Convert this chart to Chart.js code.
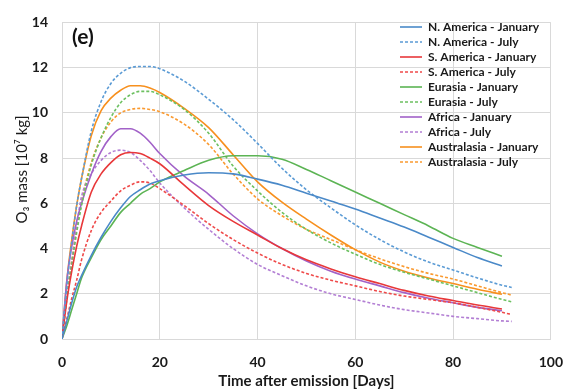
<!DOCTYPE html>
<html>
<head>
<meta charset="utf-8">
<script src="https://cdn.jsdelivr.net/npm/chart.js@4.4.1/dist/chart.umd.min.js"></script>
<style>
  html, body { margin: 0; padding: 0; background: #fff; }
</style>
</head>
<body>
<canvas id="chart" width="563" height="390"></canvas>
<script>
// days after emission (January runs stop at 90, July runs at 92)
const daysJan = [0, 1, 2, 3, 4, 6, 8, 10, 12, 14, 16, 18, 20, 25, 30, 35, 40, 45, 50, 55, 60, 65, 70, 75, 80, 85, 90];
const daysJul = [0, 1, 2, 3, 4, 6, 8, 10, 12, 14, 16, 18, 20, 25, 30, 35, 40, 45, 50, 55, 60, 65, 70, 75, 80, 85, 90, 92];

// O3 mass [10^7 kg]
const naJan = [0, 0.8, 1.6, 2.3, 2.8, 3.7, 4.5, 5.2, 5.8, 6.3, 6.6, 6.85, 7.0, 7.25, 7.35, 7.3, 7.07, 6.8, 6.45, 6.1, 5.75, 5.35, 4.95, 4.5, 4.05, 3.6, 3.23];
const naJul = [0, 2.4, 4.3, 5.9, 7.1, 9.2, 10.5, 11.3, 11.75, 12.0, 12.05, 12.05, 11.95, 11.4, 10.6, 9.7, 8.65, 7.55, 6.6, 5.8, 5.05, 4.4, 3.85, 3.4, 3.05, 2.7, 2.38, 2.28];
const saJan = [0, 1.7, 3.0, 4.1, 5.0, 6.5, 7.3, 7.8, 8.15, 8.25, 8.2, 8.0, 7.75, 6.8, 5.9, 5.2, 4.6, 4.0, 3.5, 3.1, 2.75, 2.45, 2.15, 1.9, 1.7, 1.5, 1.33];
const saJul = [0, 0.9, 1.8, 2.6, 3.5, 4.8, 5.6, 6.1, 6.55, 6.8, 6.95, 6.9, 6.65, 5.9, 5.1, 4.4, 3.8, 3.3, 2.9, 2.6, 2.35, 2.1, 1.9, 1.75, 1.6, 1.4, 1.18, 1.08];
const euJan = [0, 0.6, 1.3, 2.0, 2.7, 3.6, 4.4, 5.0, 5.6, 6.0, 6.4, 6.65, 6.95, 7.45, 7.9, 8.1, 8.1, 7.95, 7.5, 7.0, 6.5, 6.0, 5.5, 5.0, 4.45, 4.05, 3.66];
const euJul = [0, 1.8, 3.3, 4.7, 5.9, 7.7, 8.9, 9.8, 10.45, 10.8, 10.95, 10.95, 10.8, 10.15, 9.1, 7.65, 6.55, 5.6, 4.85, 4.25, 3.75, 3.3, 2.95, 2.65, 2.35, 2.05, 1.75, 1.64];
const afJan = [0, 2.6, 4.1, 5.2, 6.0, 7.3, 8.3, 8.95, 9.3, 9.3, 9.1, 8.7, 8.2, 7.2, 6.4, 5.45, 4.65, 4.0, 3.45, 3.0, 2.65, 2.35, 2.05, 1.8, 1.6, 1.4, 1.25];
const afJul = [0, 1.9, 3.4, 5.0, 6.3, 7.3, 7.9, 8.25, 8.35, 8.25, 7.9, 7.45, 6.9, 5.8, 4.85, 4.0, 3.3, 2.8, 2.35, 2.0, 1.75, 1.5, 1.3, 1.15, 1.0, 0.9, 0.8, 0.78];
const auJan = [0, 2.6, 4.4, 5.9, 7.1, 9.0, 10.1, 10.65, 11.0, 11.2, 11.2, 11.1, 10.9, 10.2, 9.35, 8.15, 6.95, 6.05, 5.3, 4.6, 3.95, 3.4, 3.0, 2.7, 2.45, 2.2, 1.98];
const auJul = [0, 1.9, 3.5, 4.9, 6.1, 7.8, 8.9, 9.6, 10.0, 10.15, 10.2, 10.15, 10.05, 9.5, 8.6, 7.3, 6.2, 5.45, 4.85, 4.4, 3.95, 3.55, 3.2, 2.9, 2.65, 2.35, 2.05, 1.94];

const xTicks = [0, 20, 40, 60, 80, 100];
const yTicks = [0, 2, 4, 6, 8, 10, 12, 14];

function pts(days, vals) {
    return days.map((d, i) => ({ x: d, y: vals[i] }));
}

function line(label, days, vals, color, dashed) {
    return {
        label: label,
        data: pts(days, vals),
        borderColor: color,
        backgroundColor: color,
        borderWidth: 1.6,
        borderDash: dashed ? [3, 2] : [],
        pointRadius: 0,
        cubicInterpolationMode: 'monotone',
        fill: false
    };
}

// puts the legend inside the plot, top right, and writes the panel tag
const panelPlugin = {
    id: 'panel',
    afterLayout(chart) {
        const lg = chart.legend;
        lg.left = 397;
        lg.right = chart.width;
        lg.top = 18;
        lg.bottom = chart.chartArea.bottom;
    },
    afterDraw(chart) {
        const c = chart.ctx;
        c.save();
        c.font = 'bold 21px Lato';
        c.fillStyle = '#111';
        c.textBaseline = 'middle';
        c.fillText('(e)', 72, 37);
        c.restore();
    }
};

Chart.defaults.font.family = 'Lato';
Chart.defaults.color = '#1a1a1a';

var ctx = document.getElementById('chart');
const chart = new Chart(ctx, {
    type: 'line',
    data: {
        datasets: [
            line('N. America - January', daysJan, naJan, '#4a89c8', false),
            line('N. America - July', daysJul, naJul, '#5b9bd5', true),
            line('S. America - January', daysJan, saJan, '#e8383a', false),
            line('S. America - July', daysJul, saJul, '#ef4a4a', true),
            line('Eurasia - January', daysJan, euJan, '#5cb454', false),
            line('Eurasia - July', daysJul, euJul, '#6cc060', true),
            line('Africa - January', daysJan, afJan, '#a262c8', false),
            line('Africa - July', daysJul, afJul, '#b37fd4', true),
            line('Australasia - January', daysJan, auJan, '#f7901e', false),
            line('Australasia - July', daysJul, auJul, '#fa9a30', true)
        ]
    },
    options: {
        responsive: false,
        animation: false,
        layout: { padding: { top: 14, right: 0, left: 0, bottom: 0 } },
        plugins: {
            legend: {
                position: 'chartArea',
                align: 'start',
                labels: {
                    usePointStyle: true,
                    pointStyle: 'line',
                    pointStyleWidth: 22,
                    boxHeight: 12,
                    padding: 3,
                    color: '#1a1a1a',
                    font: { size: 12, weight: 'bold' },
                    generateLabels(chart) {
                        const items = Chart.defaults.plugins.legend.labels.generateLabels(chart);
                        items.forEach(it => {
                            const ds = chart.data.datasets[it.datasetIndex];
                            it.lineDash = ds.borderDash;
                            it.strokeStyle = ds.borderColor;
                            it.lineWidth = 1.6;
                        });
                        return items;
                    }
                }
            },
            tooltip: { enabled: false }
        },
        scales: {
            x: {
                type: 'linear',
                min: 0,
                max: 100,
                afterFit(scale) { scale.height = 51; },
                afterBuildTicks(scale) { scale.ticks = xTicks.map(v => ({ value: v })); },
                grid: { color: '#d9d9d9', drawTicks: true, tickLength: 15, tickColor: 'rgba(0,0,0,0)' },
                border: { color: '#d9d9d9' },
                ticks: { padding: 0, font: { size: 14, weight: 'bold' }, maxRotation: 0 },
                title: {
                    display: true,
                    text: 'Time after emission [Days]',
                    font: { size: 15, weight: 'bold' },
                    padding: { top: 0, bottom: 0 }
                }
            },
            y: {
                min: 0,
                max: 14,
                afterFit(scale) { scale.width = 62; },
                afterBuildTicks(scale) { scale.ticks = yTicks.map(v => ({ value: v })); },
                grid: { color: '#d9d9d9', drawTicks: false },
                border: { color: '#d9d9d9' },
                ticks: { padding: 14, font: { size: 14, weight: 'bold' } },
                title: {
                    display: true,
                    text: '\u2002\u2002\u2002O₃ mass [10⁷ kg]',
                    font: { size: 15 },
                    padding: { top: 13, bottom: 0 }
                }
            }
        }
    },
    plugins: [panelPlugin]
});
</script>
</body>
</html>
